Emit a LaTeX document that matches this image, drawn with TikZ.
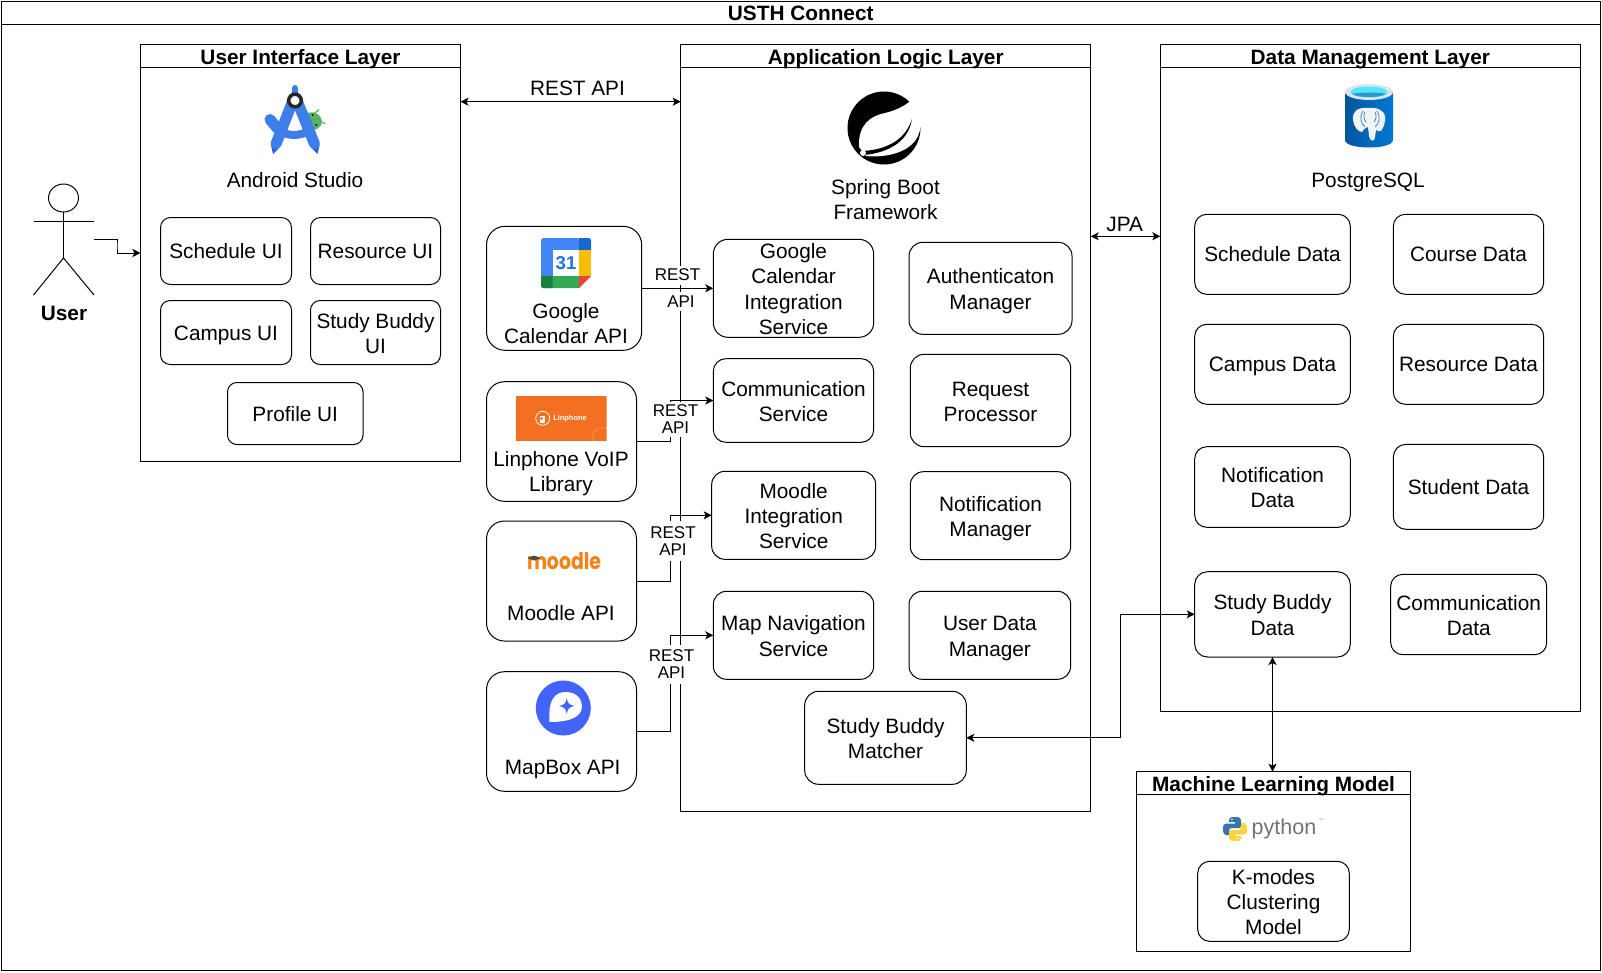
\documentclass[tikz,border=0pt]{standalone}
\usepackage{fontspec}
\setmainfont{Liberation Sans}
\newfontfamily\mdfont{Poppins}
\usetikzlibrary{arrows.meta}
\definecolor{gblue}{HTML}{4285F4}
\definecolor{gbluedk}{HTML}{1967D2}
\definecolor{gyellow}{HTML}{FBBC04}
\definecolor{ggreen}{HTML}{34A853}
\definecolor{ggreendk}{HTML}{188038}
\definecolor{gred}{HTML}{EA4335}
\definecolor{gtext}{HTML}{1A73E8}
\definecolor{asblue}{HTML}{3D7EEA}
\definecolor{asdark}{HTML}{1F5FD0}
\definecolor{asgreen}{HTML}{56B366}
\definecolor{mdorange}{HTML}{F98012}
\definecolor{lporange}{HTML}{F36F21}
\definecolor{mbblue}{HTML}{4264FB}
\definecolor{pgblue}{HTML}{0078D4}
\definecolor{pgdark}{HTML}{00569C}
\definecolor{pgrim}{HTML}{DFE3E8}
\definecolor{pgcyan}{HTML}{50E6FF}
\definecolor{pgcyandk}{HTML}{2A9BC4}
\definecolor{pgwhite}{HTML}{F2F3F5}
\definecolor{pgline}{HTML}{2B7CC4}
\definecolor{pyblue}{HTML}{3776AB}
\definecolor{pyyellow}{HTML}{FFD43B}
\newcommand{\tstrut}{\rule[-5.15pt]{0pt}{25.3pt}}
\newcommand{\ml}{\rule{0pt}{21.5pt}}
\tikzset{
  every node/.style={outer sep=0pt},
  base/.style={font=\fontsize{20.8}{25.3}\selectfont,align=center,execute at begin node=\tstrut,execute at end node=\tstrut},
  rbox/.style={base,draw=black,fill=white,line width=1pt,inner xsep=0pt,inner ysep=-5pt},
  lanebox/.style={draw=black,fill=white,line width=1pt,inner sep=0pt},
  lanetitle/.style={font=\fontsize{20.8}{25.3}\selectfont\bfseries,inner sep=0pt,align=center,execute at begin node=\tstrut},
  plain/.style={base,inner sep=0pt},
  apilabel/.style={font=\fontsize{17}{17}\selectfont,fill=white,inner sep=0pt,align=center},
  conn/.style={line width=1pt,-{Stealth[length=8pt,width=8pt,inset=2pt]}},
  dconn/.style={line width=1pt,{Stealth[length=8pt,width=8pt,inset=2pt]}-{Stealth[length=8pt,width=8pt,inset=2pt]}},
}
\newcommand{\bx}[6]{%
  \pgfmathsetmacro{\bcx}{(#2+#4)/2}\pgfmathsetmacro{\bcy}{(#3+#5)/2}%
  \pgfmathsetmacro{\bw}{#4-#2}\pgfmathsetmacro{\bh}{#5-#3}%
  \pgfmathsetmacro{\brr}{0.15*min(\bw,\bh)}%
  \node[rbox,rounded corners=\brr pt,minimum width=\bw pt,minimum height=\bh pt] (#1) at (\bcx,\bcy) {#6};}
\newcommand{\lane}[7]{%
  \pgfmathsetmacro{\bcx}{(#2+#4)/2}\pgfmathsetmacro{\bcy}{(#3+#5)/2}%
  \pgfmathsetmacro{\bw}{#4-#2}\pgfmathsetmacro{\bh}{#5-#3}%
  \pgfmathsetmacro{\bty}{(#3+#6)/2+0.8}%
  \node[lanebox,minimum width=\bw pt,minimum height=\bh pt] (#1) at (\bcx,\bcy) {};
  \draw[line width=1pt] (#2,#6) -- (#4,#6);
  \node[lanetitle] (#1-title) at (\bcx,\bty) {#7};}
\begin{document}
\begin{tikzpicture}[x=1pt,y=-1pt]
\useasboundingbox (0,0) rectangle (1602,972);
\fill[white] (0,0) rectangle (1602,972);

% lanes
\lane{usth}{1}{1}{1600.5}{970.7}{24.3}{USTH Connect}
\lane{ui}{140.5}{44.5}{460.5}{461.5}{67.5}{User Interface Layer}
\lane{app}{680.7}{44.5}{1090.7}{811}{67.5}{Application Logic Layer}
\lane{data}{1160.3}{44.5}{1580.3}{711.3}{67.5}{Data Management Layer}
\lane{ml}{1136.7}{771.7}{1410.3}{951}{794.3}{Machine Learning Model}

% actor
\draw[line width=1pt] (63.5,198) ellipse [x radius=15,y radius=14];
\draw[line width=1pt] (33.5,221) -- (94,221);
\draw[line width=1pt] (63.5,212) -- (63.5,258);
\draw[line width=1pt] (33.5,295) -- (63.5,258) -- (94,295);
\coordinate (userhand) at (93.5,239.5);
\coordinate (userbend) at (117,246);
\node[plain,font=\fontsize{20.8}{25.3}\selectfont\bfseries] (userlabel) at (64,313.2) {User};

% UI layer
\bx{schedui}{160.5}{217.5}{291.5}{284.5}{Schedule UI}
\bx{resui}{310.5}{217.5}{440.5}{284.5}{Resource UI}
\bx{campui}{160.5}{300.5}{291.5}{364.5}{Campus UI}
\bx{budui}{310.5}{300.5}{440.5}{364.5}{\ml Study Buddy\\UI}
\bx{profui}{227.5}{382.5}{363}{444.5}{Profile UI}
\node[plain] (astxt) at (295,180) {Android Studio};

% Android Studio logo
\fill[asgreen] (308,113) .. controls (316,110) and (322,116) .. (322,122) .. controls (322,127) and (316,131) .. (308,131) -- cycle;
\draw[asgreen,line width=1.2pt] (315,113) -- (319,109.5) (320,122) -- (325.5,123.5);
\fill[black] (312.7,115) circle (1) (316,125) circle (1);
\draw[asblue,line width=11pt,line cap=round] (270,119.5) -- (277,128);
\draw[asblue,line width=8pt] (276,129) .. controls (288,137) and (300,137) .. (312,129);
\fill[asdark] (271,145) -- (278,149) -- (273,154) -- cycle;
\fill[asdark] (319.5,145) -- (312.5,149) -- (317.5,154) -- cycle;
\draw[asblue,line width=11pt,line cap=round] (292,103) -- (276,144);
\draw[asblue,line width=11pt,line cap=round] (298,103) -- (314.5,144);
\draw[asblue,line width=6pt,line cap=round] (295,88) -- (295,96);
\draw[black!85,fill=white,line width=3.5pt] (295,100.5) circle (6.3);

% Application layer
\node[plain] (sptxt) at (885.5,199) {\ml Spring Boot\\Framework};
\fill[black] (884,128) circle (36.5);
\fill[white] (915,96) .. controls (908,105) and (897,110) .. (885,113) .. controls (870,116) and (858,125) .. (859,147) -- (866,156) .. controls (885,158) and (910,153) .. (918,136) .. controls (924,122) and (921,108) .. (915,96) -- cycle;
\fill[black] (862,151) .. controls (885,150) and (905,141) .. (912,119) .. controls (908,144) and (885,153) .. (864,155) -- cycle;
\fill[white] (863,153) circle (3);

\bx{gcint}{713.3}{239.3}{873.7}{337.3}{\ml Google\\Calendar\\Integration\\Service}
\bx{commsv}{713.3}{358.7}{873.7}{442.3}{\ml Communication\\Service}
\bx{moodint}{711.7}{471.3}{875.7}{559.3}{\ml Moodle\\Integration\\Service}
\bx{mapnav}{713.3}{591.3}{873.7}{679.3}{\ml Map Navigation\\Service}
\bx{authm}{909}{242.3}{1072}{334.3}{\ml Authenticaton\\Manager}
\bx{reqp}{910.3}{354.3}{1070.7}{446.7}{\ml Request\\Processor}
\bx{notifm}{910.3}{471.7}{1070.7}{559.7}{\ml Notification\\Manager}
\bx{userdm}{909}{591.3}{1070.7}{679.3}{\ml User Data\\Manager}
\bx{matcher}{804.7}{691.3}{966.3}{784.3}{\ml Study Buddy\\Matcher}

% external APIs
\bx{gcapi}{486.5}{226.3}{641.7}{350.3}{}
\node[plain] (gctxt) at (566,322.7) {\ml Google\\Calendar API};
\fill[gblue,rounded corners=2.5pt] (541,288) -- (541,238) -- (579.5,238) -- (579.5,288) -- cycle;
\fill[gbluedk] (579,238) -- (588.5,238) .. controls (590,238) and (591,239) .. (591,240.5) -- (591,250) -- (579,250) -- cycle;
\fill[gyellow] (579,250) rectangle (591,276);
\fill[ggreen] (552.7,276) rectangle (579.5,288);
\fill[ggreendk] (552.7,276) -- (552.7,288) -- (543.5,288) .. controls (542,288) and (541,287) .. (541,285.5) -- (541,276) -- cycle;
\fill[gred] (579,288) -- (591,276) -- (579,276) -- cycle;
\fill[white] (552.7,250) rectangle (579,276);
\node[font=\fontsize{18.6}{20}\selectfont\bfseries,text=gtext,inner sep=0pt] (gc31) at (566,263) {31};

\bx{lnapi}{486.5}{381.7}{636.5}{501.3}{}
\node[plain] (lntxt) at (561,470.8) {\ml Linphone VoIP\\Library};
\begin{scope}
  \clip (516,396) rectangle (606.5,441);
  \fill[lporange] (516,396) rectangle (606.5,441);
  \draw[white,opacity=.2,line width=1pt] (601.7,436.7) circle (9);
\end{scope}
\draw[white,line width=.8pt] (542.7,418.3) circle (7);
\fill[white] (540,416) rectangle (545,422.5);
\fill[lporange] (541.5,418.5) circle (1.5);
\node[font=\fontsize{7.4}{8}\selectfont\bfseries,text=white,inner sep=0pt] (lplogo) at (570,418.3) {Linphone};

\bx{mdapi}{486.5}{521}{636.5}{641}{}
\node[plain] (mdtxt) at (561,612.7) {Moodle API};
\node[font=\fontsize{23}{24}\selectfont\mdfont\bfseries,text=mdorange,inner sep=0pt] (mdlogo) at (564,561.5) {\scalebox{.82}[1]{moodle}};
\fill[black!70] (527.5,558) -- (534,555.5) -- (541,558) -- (534,560.5) -- cycle;

\bx{mbapi}{486.5}{671.7}{636.5}{791.3}{}
\node[plain] (mbtxt) at (562.7,766.7) {MapBox API};
\fill[mbblue] (563.3,708) circle (27.5);
\fill[white] (549.5,722) .. controls (549,712) and (548,692) .. (566,692) .. controls (576,692) and (582,699) .. (582,706) .. controls (582,716) and (572,722) .. (549.5,722) -- cycle;
\fill[mbblue] (566.7,698) .. controls (567.5,703) and (569,705) .. (574.5,706) .. controls (569,707) and (567.5,709) .. (566.7,714) .. controls (566,709) and (564.5,707) .. (559,706) .. controls (564.5,705) and (566,703) .. (566.7,698) -- cycle;

% data layer
\node[plain] (pgtxt) at (1368,180.2) {PostgreSQL};
\shade[left color=pgdark,right color=pgblue] (1345,92) -- (1345,140) .. controls (1345,150) and (1393,150) .. (1393,140) -- (1393,92) -- cycle;
\fill[pgrim] (1369,92) ellipse [x radius=24,y radius=8];
\fill[pgcyan] (1369,92) ellipse [x radius=18.5,y radius=5.5];
\fill[pgcyandk] (1352,94) .. controls (1358,98) and (1380,98) .. (1386,94) .. controls (1380,92) and (1358,92) .. (1352,94) -- cycle;
\fill[pgwhite] (1368,108) .. controls (1358,107) and (1352,111) .. (1353,120) .. controls (1354,127) and (1358,132) .. (1362,132) .. controls (1364,129) and (1366,127) .. (1368,127) -- (1369,136) .. controls (1370,142) and (1375,142) .. (1375,137) -- (1376,130) .. controls (1378,131) and (1380,132) .. (1381,131) .. controls (1384,127) and (1386,120) .. (1385,116) .. controls (1384,110) and (1376,107) .. (1368,108) -- cycle;
\draw[pgline,line width=.7pt] (1363,111) .. controls (1359,117) and (1361,124) .. (1365,127) (1377,111) .. controls (1381,117) and (1379,124) .. (1375,127) (1365,112) .. controls (1363,116) and (1364,120) .. (1366,122) (1375,112) .. controls (1377,116) and (1376,120) .. (1374,122);
\bx{dsched}{1194.7}{214.3}{1350.3}{294.3}{Schedule Data}
\bx{dcourse}{1393.3}{214.3}{1543.7}{294.3}{Course Data}
\bx{dcamp}{1194.7}{324.3}{1350.3}{404.3}{Campus Data}
\bx{dres}{1393.3}{324.3}{1543.7}{404.3}{Resource Data}
\bx{dnotif}{1194.7}{446.7}{1350.3}{527.3}{\ml Notification\\Data}
\bx{dstud}{1393.3}{444.3}{1543.7}{529.3}{Student Data}
\bx{dbud}{1194.7}{571.7}{1350.3}{657}{\ml Study Buddy\\Data}
\bx{dcomm}{1390.7}{574.3}{1546.7}{654.7}{\ml Communication\\Data}

% ML
\newcommand{\snake}{(1229,819.5) .. controls (1229,817.5) and (1231,817) .. (1235,817) .. controls (1239,817) and (1241,818) .. (1241,820) -- (1241,826) .. controls (1241,827.5) and (1240,828) .. (1239,828) -- (1232,828) .. controls (1230,828) and (1229,829) .. (1229,831) -- (1229,835) -- (1226,835) .. controls (1224,835) and (1223,833) .. (1223,829) .. controls (1223,825) and (1224,823.5) .. (1226,823.5) -- (1235,823.5) -- (1235,822) -- (1229,822) -- cycle}
\fill[pyblue] \snake;
\fill[pyyellow,rotate around={180:(1235,829)}] \snake;
\fill[white] (1232,819.5) circle (.9) (1238,838.5) circle (.9);
\node[font=\fontsize{21.5}{22}\selectfont,text=black!55,inner sep=0pt] (pylogo) at (1284,829) {python};
\node[font=\fontsize{4}{4}\selectfont,text=black!50,inner sep=0pt] (pytm) at (1321,820.5) {™};
\bx{kmodes}{1197.7}{861.3}{1349.3}{941.3}{\ml K-modes\\Clustering\\Model}

% connectors
\coordinate (resty) at (0,101.7);
\coordinate (jpay) at (0,236.3);
\coordinate (ch1) at (670.5,420);
\coordinate (ch2) at (670.5,540);
\coordinate (ch3) at (670.5,680);
\coordinate (ch4) at (1120.3,680);
\draw[conn] (userhand) -| (userbend) |- (ui.west);
\draw[dconn] (ui.east |- resty) -- (app.west |- resty);
\draw[dconn] (app.east |- jpay) -- (data.west |- jpay);
\draw[conn] (gcapi.east) -- (gcint.west);
\draw[conn] (lnapi.east) -| (ch1) |- (commsv.west);
\draw[conn] (mdapi.east) -| (ch2) |- (moodint.west);
\draw[conn] (mbapi.east) -| (ch3) |- (mapnav.west);
\draw[dconn] (matcher.east) -| (ch4) |- (dbud.west);
\draw[dconn] (dbud.south) -- (dbud.south |- ml.north);

% connector labels
\node[plain] (restlbl) at (577.5,88) {REST API};
\node[plain] (jpalbl) at (1124.7,223.5) {JPA};
\node[apilabel,minimum height=19pt] (l1a) at (677.5,275) {REST};
\node[apilabel,minimum height=19pt] (l1b) at (681,301.5) {API};
\node[apilabel,minimum height=35pt,minimum width=46pt] (l2) at (675.5,419.2) {\fontsize{17}{16.7}\selectfont REST\\API};
\node[apilabel,minimum height=40pt,minimum width=46pt] (l3) at (673,541) {\fontsize{17}{18}\selectfont REST\\API};
\node[apilabel,minimum height=39pt,minimum width=46pt] (l4) at (671.5,664) {\fontsize{17}{18}\selectfont REST\\API};
\end{tikzpicture}
\end{document}
